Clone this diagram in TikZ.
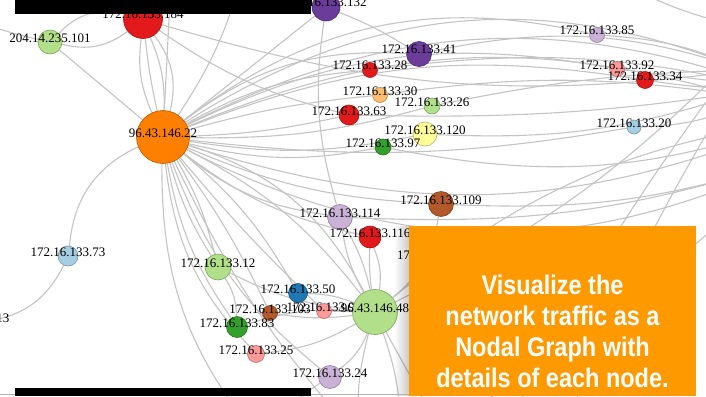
\documentclass[tikz,border=0pt]{standalone}
\usepackage{fontspec}
\setmainfont{Liberation Serif}
\newfontfamily\boxfont{Liberation Sans}[FakeStretch=0.87]
\usetikzlibrary{fadings}
\definecolor{cLBlue}{HTML}{A6CEE3}
\definecolor{cBlue}{HTML}{1F78B4}
\definecolor{cLGreen}{HTML}{B2DF8A}
\definecolor{cGreen}{HTML}{33A02C}
\definecolor{cPink}{HTML}{FB9A99}
\definecolor{cRed}{HTML}{E31A1C}
\definecolor{cLOrange}{HTML}{FDBF6F}
\definecolor{cOrange}{HTML}{FF7F00}
\definecolor{cLPurple}{HTML}{CAB2D6}
\definecolor{cPurple}{HTML}{6A3D9A}
\definecolor{cYellow}{HTML}{FFFF99}
\definecolor{cBrown}{HTML}{B15928}
\definecolor{edgegray}{HTML}{C4C4C4}
\definecolor{boxorange}{HTML}{FF9900}
\pgfdeclarelayer{bg}
\pgfsetlayers{bg,main}
\tikzset{
  gn/.style={circle, inner sep=0pt, line width=0.6pt},
  lbl/.style={font=\fontsize{13}{13}\selectfont, inner sep=0pt, anchor=base, text=black},
  ed/.style={draw=edgegray, line width=1.1pt},
  boxtxt/.style={font=\boxfont\bfseries\fontsize{27}{31}\selectfont, text=white, align=center, anchor=base, inner sep=0pt},
}
\newcommand{\gnd}[6]{%
  \node[gn, minimum size={2*#4}, fill=#5, draw=#5!72!black] (#1) at (#2,#3) {};
  \node[lbl] (#1l) at (#2,#3) {#6};}
\begin{document}
\begin{tikzpicture}[x=1pt,y=-1pt]
\useasboundingbox (0,0) rectangle (706,396);

% off-canvas anchors
\coordinate (rA) at (745,70);
\coordinate (rB) at (770,88);
\coordinate (rC) at (735,95);
\coordinate (rD) at (800,120);
\coordinate (rE) at (760,30);
\coordinate (rF) at (790,160);
\coordinate (tA) at (172,-40);
\coordinate (tB) at (245,-40);
\coordinate (tR) at (600,-30);
\coordinate (tS) at (700,-40);
\coordinate (lT) at (-40,14);
\coordinate (bA) at (260,440);
\coordinate (bB) at (360,440);
\coordinate (bC) at (400,440);
\coordinate (bD) at (440,430);
\coordinate (bE) at (500,440);
\coordinate (bF) at (560,440);

% nodes
\gnd{n13}{-28}{322}{9}{cLBlue}{172.16.133.13}
\gnd{n73}{68}{256}{10}{cLBlue}{172.16.133.73}
\gnd{n204}{50}{42}{12}{cLGreen}{204.14.235.101}
\gnd{n184}{143}{19}{19.5}{cRed}{172.16.133.184}
\gnd{n132}{326}{7}{14}{cPurple}{172.16.133.132}
\gnd{nA}{163}{137}{26.5}{cOrange}{96.43.146.22}
\gnd{n41}{419}{54}{12.5}{cPurple}{172.16.133.41}
\gnd{n28}{370}{70}{7.5}{cRed}{172.16.133.28}
\gnd{n30}{380}{95}{7.5}{cLOrange}{172.16.133.30}
\gnd{n26}{432}{106}{8}{cLGreen}{172.16.133.26}
\gnd{n63}{349}{115}{10}{cRed}{172.16.133.63}
\gnd{n120}{425}{134}{12}{cYellow}{172.16.133.120}
\gnd{n97}{383}{147}{8}{cGreen}{172.16.133.97}
\gnd{n85}{597}{35}{7.5}{cLPurple}{172.16.133.85}
\gnd{n92}{617}{69}{7.5}{cPink}{172.16.133.92}
\gnd{n34}{645}{80}{8.5}{cRed}{172.16.133.34}
\gnd{n20}{634}{127}{7}{cLBlue}{172.16.133.20}
\gnd{n109}{441}{204}{12.5}{cBrown}{172.16.133.109}
\gnd{n114}{340}{217}{12.5}{cLPurple}{172.16.133.114}
\gnd{n116}{370}{237}{11}{cRed}{172.16.133.116}
\gnd{n12}{218}{267}{13}{cLGreen}{172.16.133.12}
\gnd{n50}{298}{293}{9.5}{cBlue}{172.16.133.50}
\gnd{n103}{270}{313}{7.5}{cBrown}{172.16.133.103}
\gnd{n94}{324}{311}{7.5}{cPink}{172.16.133.94}
\gnd{nB}{375}{312}{22.5}{cLGreen}{96.43.146.48}
\gnd{n83}{237}{327}{10.5}{cGreen}{172.16.133.83}
\gnd{n25}{256}{354}{8.5}{cPink}{172.16.133.25}
\gnd{n24}{330}{377}{11.5}{cLPurple}{172.16.133.24}
\node[lbl, anchor=base west] (l17) at (397,259) {17};

\begin{pgfonlayer}{bg}
\fill[white] (0,0) rectangle (706,396);
% 204 / 184 cluster
\draw[ed] (lT) to[bend right=5] (n204);
\draw[ed] (n204) to[bend left=30] (n184);
\draw[ed] (n204) to[bend right=25] (n184);
\draw[ed] (n204) to (nA);
\draw[ed] (n184) to[bend right=15] (nA);
\draw[ed] (n184) to[bend right=3] (nA);
\draw[ed] (n184) to[bend left=12] (nA);
\draw[ed] (n184) to[bend left=25] (nA);
\draw[ed] (n184) to[bend right=10] (n63);
\draw[ed] (n184) to[bend right=12] (rA);
\draw[ed] (tA) to (nA);
\draw[ed] (tB) to[bend left=10] (nA);
\draw[ed] (n132) to (nA);
\draw[ed] (n132) to[bend left=5] (n41);
\draw[ed] (n132) to[bend right=12] (n114);
% fan of 96.43.146.22
\draw[ed] (nA) to[bend left=20] (n41);
\draw[ed] (nA) to[bend left=12] (n28);
\draw[ed] (nA) to[bend left=5] (n30);
\draw[ed] (nA) to[bend right=5] (n63);
\draw[ed] (nA) to[bend right=8] (n26);
\draw[ed] (nA) to[bend right=10] (n120);
\draw[ed] (nA) to[bend right=12] (n97);
\draw[ed] (nA) to[bend right=15] (n114);
\draw[ed] (nA) to[bend right=12] (n116);
\draw[ed] (nA) to[bend right=10] (n109);
\draw[ed] (nA) to[bend left=25] (n85);
\draw[ed] (nA) to[bend left=18] (n92);
\draw[ed] (nA) to[bend left=15] (n34);
\draw[ed] (nA) to[bend right=8] (n20);
\draw[ed] (nA) to[bend left=27] (rA);
\draw[ed] (nA) to[bend left=23] (rB);
\draw[ed] (nA) to[bend left=19] (rC);
\draw[ed] (nA) to[bend right=20] (rD);
\draw[ed] (nA) to[bend right=26] (rF);
\draw[ed] (nA) to[bend right=30] (n73);
\draw[ed] (nA) to[bend right=8] (n12);
\draw[ed] (nA) to[bend left=8] (n12);
\draw[ed] (nA) to[bend right=12] (n83);
\draw[ed] (nA) to[bend right=18] (n25);
\draw[ed] (nA) to[bend right=15] (n24);
\draw[ed] (nA) to[bend left=10] (n50);
\draw[ed] (nA) to[bend left=5] (n103);
\draw[ed] (nA) to[bend left=12] (nB);
\draw[ed] (nA) to[bend left=22] (nB);
\draw[ed] (nA) to[bend right=3] (n94);
\draw[ed] (nA) to[bend right=20] (bA);
\draw[ed] (nA) to[bend right=8] (bB);
\draw[ed] (n73) to[bend left=30] (n13);
% 96.43.146.48
\draw[ed] (nB) to[bend left=10] (n114);
\draw[ed] (nB) to[bend right=8] (n114);
\draw[ed] (nB) to[bend left=5] (n116);
\draw[ed] (nB) to[bend right=15] (n116);
\draw[ed] (nB) to[bend left=10] (n12);
\draw[ed] (nB) to[bend right=10] (n50);
\draw[ed] (nB) to (n94);
\draw[ed] (nB) to[bend left=8] (n103);
\draw[ed] (nB) to[bend right=10] (n83);
\draw[ed] (nB) to[bend left=12] (n25);
\draw[ed] (nB) to[bend left=15] (n24);
\draw[ed] (nB) to[bend right=20] (n109);
\draw[ed] (nB) to[bend right=10] (bB);
\draw[ed] (nB) to[bend left=10] (bC);
\draw[ed] (nB) to (bD);
\draw[ed] (nB) to[bend left=15] (rD);
\draw[ed] (nB) to[bend right=10] (rE);
% right side
\draw[ed] (n41) to[bend left=15] (rA);
\draw[ed] (n28) to[bend left=10] (rB);
\draw[ed] (n30) to[bend left=8] (rC);
\draw[ed] (n63) to[bend right=5] (rB);
\draw[ed] (n26) to[bend left=5] (rA);
\draw[ed] (n120) to[bend right=10] (rC);
\draw[ed] (n97) to[bend right=15] (rD);
\draw[ed] (n114) to[bend right=10] (rF);
\draw[ed] (n109) to[bend right=10] (rF);
\draw[ed] (n85) to[bend left=10] (rA);
\draw[ed] (n92) to (rB);
\draw[ed] (n34) to[bend right=5] (rB);
\draw[ed] (n20) to[bend right=15] (rB);
\draw[ed] (tR) to[bend right=10] (rE);
\draw[ed] (tS) to[bend right=10] (rA);
\draw[ed] (bE) to[bend left=5] (rE);
\draw[ed] (bF) to[bend left=5] (rA);
\draw[ed] (bD) to[bend right=5] (rF);
\draw[ed] (n12) to[bend left=15] (n83);
\draw[ed] (n24) to[bend right=10] (bA);
\end{pgfonlayer}

% overlay: message box and bars
\fill[black, opacity=0.22, path fading=west] (394,226) rectangle (410,396);
\fill[boxorange] (409,226) rectangle (696,396);
\node[boxtxt] (msg) at (552.5,387) {Visualize the\\network traffic as a\\Nodal Graph with\\details of each node.};
\draw[gray!60, line width=0.8pt] (0,394.5) -- (409,394.5);
\fill[black] (15,0) rectangle (311,14);
\fill[black] (15,388) rectangle (311,396);
\end{tikzpicture}
\end{document}
